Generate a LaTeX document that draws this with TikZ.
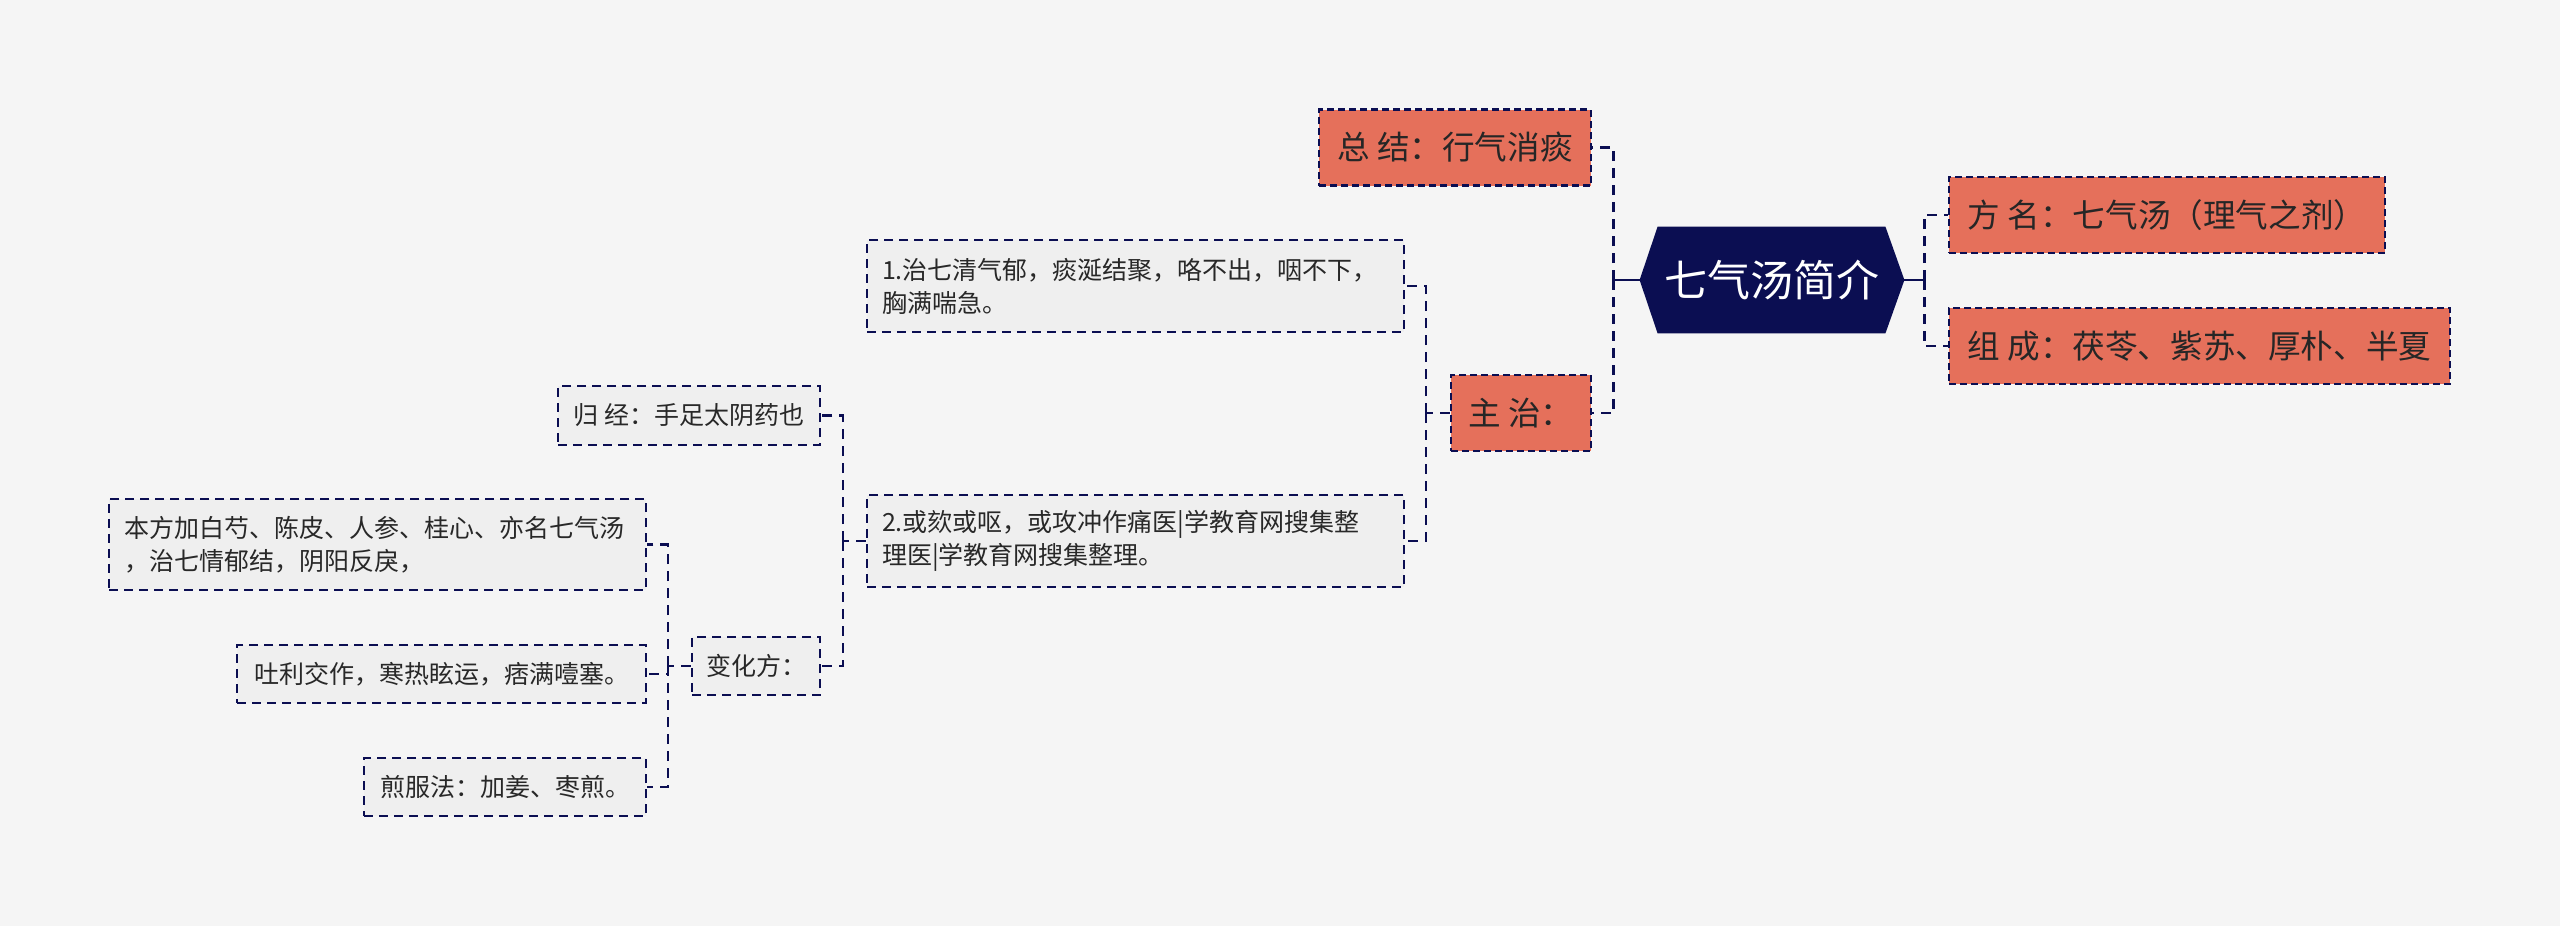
\documentclass[tikz,border=0pt]{standalone}
\usepackage{fontspec}
\setmainfont{Noto Sans CJK SC}
\usepackage{tikz}
\usetikzlibrary{backgrounds}
\definecolor{navy}{RGB}{11,14,82}
\definecolor{tomato}{RGB}{229,112,91}
\definecolor{paper}{RGB}{245,245,245}
\definecolor{cardgray}{RGB}{239,239,239}
\definecolor{ink}{RGB}{40,40,40}
\tikzset{every node/.style={inner sep=0pt, align=left},
    redbox/.style={draw=navy, fill=tomato, line width=1.1pt,
        dash pattern=on 3.5pt off 2pt, text=black!85,
        font=\fontsize{16.3}{20}\selectfont, minimum height=38pt},
    graybox/.style={draw=navy, fill=cardgray, line width=1.1pt,
        dash pattern=on 4.5pt off 3pt, text=ink,
        font=\fontsize{12.5}{16.5}\selectfont},
    link/.style={draw=navy, line width=1.4pt, dash pattern=on 5pt off 3.5pt},
    stem/.style={draw=navy, line width=1.4pt}}

\begin{document}
\begin{tikzpicture}[x=0.5pt,y=-0.5pt]
    \useasboundingbox (0,0) rectangle (2560,926);
    % centre
    \node[font=\fontsize{21.5}{26}\selectfont, text=white,
        minimum width=132pt, minimum height=53pt] (title) at (1772,280) {七气汤简介};
    \begin{scope}[on background layer]
        \fill[paper] (0,0) rectangle (2560,926);
        \fill[navy] (title.west) -- ([xshift=9pt]title.north west)
            -- ([xshift=-9.5pt]title.north east) -- (title.east)
            -- ([xshift=-9.5pt]title.south east)
            -- ([xshift=9pt]title.south west) -- cycle;
    \end{scope}
    % first level
    \node[redbox, minimum width=136pt] (sum) at (1455,147.5) {总 结：行气消痰};
    \node[redbox, minimum width=70pt] (zhu) at (1521,413) {主 治：};
    \node[redbox, minimum width=218pt] (fang) at (2167,215) {方 名：七气汤（理气之剂）};
    \node[redbox, minimum width=250.5pt] (zu) at (2199.5,346) {组 成：茯苓、紫苏、厚朴、半夏};
    % under zhu
    \node[graybox, inner xsep=7.5pt, text width=253.5pt, minimum height=46pt] (z1)
        at (1135.5,286) {1.治七清气郁，痰涎结聚，咯不出，咽不下，\\胸满喘急。};
    \node[graybox, inner xsep=7.5pt, text width=253.5pt, minimum height=46pt] (z2)
        at (1135.5,541) {2.或欬或呕，或攻冲作痛医|学教育网搜集整\\理医|学教育网搜集整理。};
    \node[graybox, minimum width=131pt, minimum height=29.5pt] (gj) at (689,415.5) {归 经：手足太阴药也};
    \node[graybox, minimum width=64pt, minimum height=29pt] (bh) at (756,666) {变化方：};
    % under bh
    \node[graybox, inner xsep=7.5pt, text width=253.5pt, minimum height=45.5pt] (bf)
        at (377.5,544.5) {本方加白芍、陈皮、人参、桂心、亦名七气汤\\，治七情郁结，阴阳反戾，};
    \node[graybox, minimum width=204.5pt, minimum height=29pt] (tl) at (441.5,674) {吐利交作，寒热眩运，痞满噎塞。};
    \node[graybox, minimum width=141pt, minimum height=29pt] (jf) at (505,787) {煎服法：加姜、枣煎。};
    % connectors
    \draw[stem] (title.west) -- ++(-13pt,0) coordinate (lj);
    \draw[link] (lj) |- (sum.east);
    \draw[link] (lj) |- (zhu.east);
    \draw[stem] (title.east) -- ++(10pt,0) coordinate (rj);
    \draw[link] (rj) |- (fang.west);
    \draw[link] (rj) |- (zu.west);
    \draw[link] (zhu.west) -- ++(-12pt,0) coordinate (zj);
    \draw[link] (zj) |- (z1.east);
    \draw[link] (zj) |- (z2.east);
    \draw[link] (z2.west) -- ++(-11.5pt,0) coordinate (bj);
    \draw[link] (bj) |- (gj.east);
    \draw[link] (bj) |- (bh.east);
    \draw[link] (bh.west) -- ++(-11.5pt,0) coordinate (hj);
    \draw[link] (hj) |- (bf.east);
    \draw[link] (hj) |- (tl.east);
    \draw[link] (hj) |- (jf.east);
\end{tikzpicture}
\end{document}
